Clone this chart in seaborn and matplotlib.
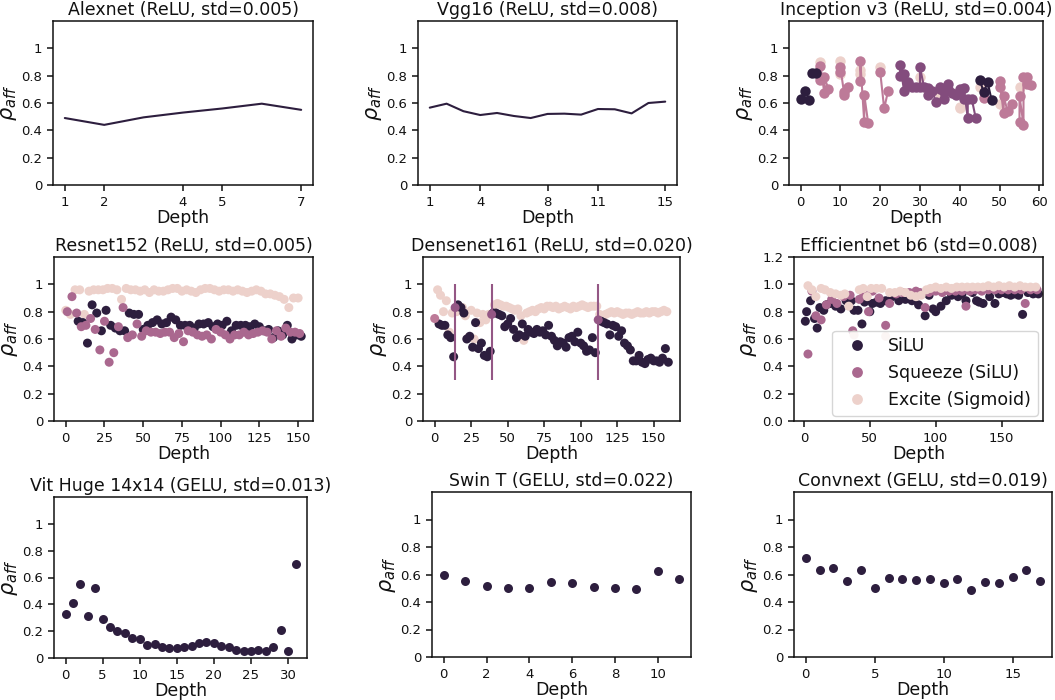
import numpy as np
import pandas as pd
import matplotlib
matplotlib.use("Agg")
import matplotlib.pyplot as plt
import seaborn as sns

# ---------------------------------------------------------------- data
alex_depth = [1, 2, 3, 4, 5, 6, 7]
alex_rho = [0.49, 0.44, 0.495, 0.53, 0.56, 0.595, 0.55]
alex_ticks = [1, 2, 4, 5, 7]

vgg_depth = list(range(1, 16))
vgg_rho = [0.566, 0.595, 0.54, 0.512, 0.527, 0.505, 0.49, 0.52, 0.522,
           0.515, 0.556, 0.554, 0.524, 0.60, 0.61]
vgg_ticks = [1, 4, 8, 11, 15]

# Inception v3: branch 0 = light, 1 = pink, 2 = purple, 3 = dark
inc_depth = [0, 1, 2, 3, 4,
             5, 5, 5, 6, 6, 7,
             10, 10, 10, 10, 11, 11, 12,
             15, 15, 15, 15, 16, 16, 17,
             20, 20, 21, 22,
             25, 25, 26, 26, 27, 27, 28, 29, 30,
             30, 30, 31, 32, 32, 33, 34,
             35, 35, 36, 36, 37, 37, 38, 39, 35,
             40, 40, 41, 41, 42, 42, 43, 44, 40, 40,
             45, 46, 47, 48, 45, 46,
             50, 50, 51, 51, 52, 53, 50,
             55, 55, 56, 56, 57, 57, 58, 55]
inc_rho = [0.63, 0.69, 0.62, 0.82, 0.82,
           0.90, 0.87, 0.77, 0.79, 0.67, 0.70,
           0.91, 0.81, 0.86, 0.83, 0.68, 0.66, 0.72,
           0.84, 0.81, 0.91, 0.76, 0.66, 0.46, 0.45,
           0.86, 0.83, 0.56, 0.69,
           0.88, 0.80, 0.81, 0.69, 0.73, 0.75, 0.72, 0.72, 0.79,
           0.86, 0.72, 0.72, 0.66, 0.71, 0.69, 0.61,
           0.72, 0.70, 0.63, 0.68, 0.74, 0.70, 0.67, 0.66, 0.65,
           0.70, 0.68, 0.71, 0.63, 0.63, 0.49, 0.63, 0.49, 0.57, 0.56,
           0.77, 0.68, 0.75, 0.62, 0.72, 0.64,
           0.76, 0.72, 0.65, 0.53, 0.54, 0.59, 0.59,
           0.65, 0.46, 0.44, 0.79, 0.79, 0.74, 0.73, 0.72]
inc_branch = [3, 3, 3, 3, 3,
              0, 1, 1, 1, 1, 1,
              0, 0, 1, 1, 1, 1, 1,
              0, 0, 1, 1, 1, 1, 1,
              0, 1, 1, 1,
              2, 2, 2, 2, 2, 2, 2, 2, 0,
              2, 2, 2, 2, 2, 2, 2,
              2, 2, 2, 2, 2, 2, 2, 2, 0,
              2, 2, 2, 2, 2, 2, 2, 2, 0, 0,
              3, 3, 3, 3, 0, 1,
              1, 1, 1, 1, 1, 1, 0,
              1, 1, 1, 1, 1, 1, 1, 0]
inc_block = [0, 1, 2, 3, 3,
             4, 4, 4, 4, 4, 4,
             5, 5, 5, 5, 5, 5, 5,
             6, 6, 6, 6, 6, 6, 6,
             7, 7, 7, 7,
             8, 8, 8, 8, 8, 8, 8, 8, 8,
             9, 9, 9, 9, 9, 9, 9,
             10, 10, 10, 10, 10, 10, 10, 10, 10,
             11, 11, 11, 11, 11, 11, 11, 11, 11, 11,
             12, 12, 12, 12, 12, 12,
             13, 13, 13, 13, 13, 13, 13,
             14, 14, 14, 14, 14, 14, 14, 14]

# Resnet152: three ReLUs per bottleneck
res_light_rho = [0.81, 0.78, 0.96, 0.96, 0.78, 0.95, 0.96, 0.96, 0.96, 0.97,
                 0.97, 0.96, 0.89, 0.97, 0.96, 0.96, 0.95, 0.96, 0.94, 0.96,
                 0.95, 0.95, 0.96, 0.97, 0.97, 0.95, 0.96, 0.95, 0.94, 0.96,
                 0.97, 0.97, 0.96, 0.95, 0.96, 0.96, 0.95, 0.96, 0.95, 0.94,
                 0.95, 0.96, 0.95, 0.93, 0.93, 0.92, 0.91, 0.89, 0.83, 0.90,
                 0.90]
res_mid_rho = [0.80, 0.91, 0.79, 0.69, 0.70, 0.75, 0.67, 0.52, 0.73, 0.43,
               0.50, 0.69, 0.83, 0.61, 0.63, 0.71, 0.62, 0.66, 0.65, 0.65,
               0.64, 0.65, 0.65, 0.61, 0.64, 0.58, 0.66, 0.65, 0.63, 0.62,
               0.63, 0.60, 0.67, 0.65, 0.63, 0.60, 0.63, 0.63, 0.65, 0.63,
               0.64, 0.65, 0.66, 0.65, 0.60, 0.66, 0.62, 0.68, 0.65, 0.65,
               0.64]
res_dark_rho = [0.73, 0.72, 0.57, 0.85, 0.79, 0.66, 0.81, 0.70, 0.68,
                0.66, 0.66, 0.79, 0.78, 0.78, 0.67, 0.70, 0.72, 0.74, 0.71,
                0.72, 0.76, 0.74, 0.70, 0.70, 0.70, 0.68, 0.71, 0.71, 0.72,
                0.69, 0.71, 0.70, 0.73, 0.66, 0.70, 0.70, 0.70, 0.69, 0.71,
                0.69, 0.66, 0.67, 0.61, 0.66, 0.63, 0.70, 0.60, 0.63, 0.62]
res_light_depth = np.arange(0, 151, 3)
res_mid_depth = np.arange(1, 152, 3)
res_dark_depth = np.arange(8, 153, 3)

# Densenet161: two ReLUs per dense layer, plus stem/transition ReLUs
dn_light_depth = ([2, 4, 6, 8, 10, 12] + list(range(15, 38, 2))
                  + list(range(41, 112, 2)) + list(range(113, 160, 2)))
dn_light_rho = ([0.96, 0.92, 0.80, 0.88, 0.65, 0.79]
                + [0.80, 0.81, 0.83, 0.77, 0.61, 0.81, 0.60, 0.79, 0.72, 0.78,
                   0.74, 0.78]
                + [0.85, 0.86, 0.85, 0.84, 0.84, 0.83, 0.82, 0.81, 0.82, 0.77,
                   0.59, 0.79, 0.80, 0.81, 0.80, 0.82, 0.83, 0.82, 0.84, 0.84,
                   0.83, 0.84, 0.82, 0.83, 0.84, 0.83, 0.82, 0.84, 0.83, 0.84,
                   0.85, 0.84, 0.83, 0.84, 0.84, 0.84]
                + [0.78, 0.77, 0.78, 0.79, 0.80, 0.79, 0.80, 0.79, 0.78, 0.79,
                   0.79, 0.78, 0.79, 0.80, 0.79, 0.79, 0.80, 0.79, 0.80, 0.80,
                   0.79, 0.80, 0.81, 0.80])
dn_dark_depth = ([3, 5, 7, 9, 11, 13] + list(range(16, 39, 2))
                 + list(range(40, 111, 2)) + list(range(114, 161, 2)))
dn_dark_rho = ([0.71, 0.70, 0.70, 0.63, 0.61, 0.47]
               + [0.85, 0.83, 0.79, 0.60, 0.62, 0.54, 0.72, 0.53, 0.57, 0.48,
                  0.47, 0.51]
               + [0.79, 0.79, 0.78, 0.77, 0.69, 0.71, 0.75, 0.67, 0.61, 0.63,
                  0.71, 0.62, 0.67, 0.65, 0.64, 0.67, 0.65, 0.66, 0.63, 0.70,
                  0.62, 0.59, 0.55, 0.58, 0.57, 0.54, 0.61, 0.62, 0.58, 0.65,
                  0.57, 0.55, 0.51, 0.52, 0.61, 0.50]
               + [0.73, 0.72, 0.71, 0.63, 0.70, 0.69, 0.62, 0.66, 0.57, 0.55,
                  0.52, 0.44, 0.44, 0.48, 0.43, 0.42, 0.45, 0.46, 0.44, 0.44,
                  0.43, 0.46, 0.53, 0.43])
dn_trans_depth = [0, 14, 39, 112]
dn_trans_rho = [0.75, 0.83, 0.78, 0.74]
dn_trans_kind = ["stem", "transition", "transition", "transition"]
dn_boundaries = [14, 39, 112]

# Efficientnet b6
eff_labels = ["SiLU", "Squeeze (SiLU)", "Excite (Sigmoid)"]
eff_silu_depth = [1, 2, 5, 8, 10, 12, 15, 17, 20, 24, 28, 32, 36, 38, 41, 44,
                  46, 50, 52, 55, 58, 62, 67, 72, 77, 82, 87, 92, 95, 98, 100,
                  104, 108, 112, 117, 120, 123, 128, 131, 133, 136, 141, 145,
                  148, 151, 154, 157, 160, 163, 166, 170, 174, 178]
eff_silu_rho = [0.73, 0.80, 0.88, 0.75, 0.68, 0.83, 0.81, 0.85, 0.86, 0.84,
                0.82, 0.88, 0.88, 0.81, 0.81, 0.71, 0.87, 0.80, 0.86, 0.87,
                0.86, 0.88, 0.91, 0.88, 0.89, 0.88, 0.85, 0.77, 0.92, 0.82,
                0.80, 0.84, 0.88, 0.92, 0.91, 0.93, 0.88, 0.94, 0.88, 0.87,
                0.86, 0.91, 0.86, 0.93, 0.94, 0.93, 0.92, 0.93, 0.92, 0.78,
                0.94, 0.93, 0.93]
eff_squeeze_depth = [3, 6, 9, 13, 17, 21, 25, 30, 35, 37, 42, 45, 49, 52, 57,
                     62, 65, 70, 75, 80, 85, 88, 92, 95, 100, 105, 110, 115,
                     120, 123, 126, 130, 135, 140, 145, 150, 155, 160, 165,
                     168, 172, 177]
eff_squeeze_rho = [0.49, 0.95, 0.77, 0.74, 0.85, 0.89, 0.86, 0.91, 0.92, 0.66,
                   0.89, 0.94, 0.80, 0.95, 0.90, 0.70, 0.86, 0.93, 0.94, 0.94,
                   0.95, 0.94, 0.83, 0.94, 0.95, 0.94, 0.95, 0.95, 0.95, 0.84,
                   0.95, 0.96, 0.95, 0.96, 0.96, 0.96, 0.96, 0.96, 0.96, 0.86,
                   0.96, 0.96]
eff_excite_depth = [3, 6, 9, 13, 16, 20, 24, 28, 31, 34, 38, 42, 45, 48, 51,
                    55, 59, 62, 65, 69, 73, 77, 81, 85, 89, 93, 96, 100, 104,
                    108, 112, 116, 120, 124, 128, 132, 136, 140, 144, 148,
                    152, 156, 160, 164, 168, 172, 176]
eff_excite_rho = [0.99, 0.96, 0.91, 0.97, 0.96, 0.94, 0.93, 0.92, 0.93, 0.84,
                  0.63, 0.96, 0.97, 0.91, 0.97, 0.97, 0.97, 0.62, 0.94, 0.94,
                  0.95, 0.94, 0.92, 0.91, 0.92, 0.96, 0.97, 0.98, 0.97, 0.98,
                  0.97, 0.98, 0.98, 0.98, 0.98, 0.98, 0.98, 0.99, 0.98, 0.99,
                  0.98, 0.99, 0.98, 0.99, 0.98, 0.98, 0.98]

vit_rho = [0.33, 0.41, 0.55, 0.31, 0.52, 0.29, 0.23, 0.20, 0.19, 0.15, 0.14,
           0.10, 0.105, 0.08, 0.075, 0.075, 0.08, 0.09, 0.11, 0.12, 0.11,
           0.09, 0.08, 0.06, 0.05, 0.05, 0.06, 0.055, 0.08, 0.21, 0.05, 0.70]
swin_rho = [0.60, 0.55, 0.52, 0.505, 0.505, 0.545, 0.535, 0.51, 0.50, 0.495,
            0.625, 0.565]
convnext_rho = [0.72, 0.63, 0.65, 0.55, 0.635, 0.505, 0.575, 0.565, 0.56,
                0.57, 0.535, 0.57, 0.485, 0.545, 0.535, 0.58, 0.63, 0.555]

titles = ["Alexnet (ReLU, std=0.005)", "Vgg16 (ReLU, std=0.008)",
          "Inception v3 (ReLU, std=0.004)", "Resnet152 (ReLU, std=0.005)",
          "Densenet161 (ReLU, std=0.020)", "Efficientnet b6 (std=0.008)",
          "Vit Huge 14x14 (GELU, std=0.013)", "Swin T (GELU, std=0.022)",
          "Convnext (GELU, std=0.019)"]
rho_ticks = [0, 0.2, 0.4, 0.6, 0.8, 1]
rho_ticklabels = ["0", "0.2", "0.4", "0.6", "0.8", "1"]

# ---------------------------------------------------------------- style
sns.set_theme(style="ticks")
ink = "#111111"
plt.rcParams.update({
    "font.family": ["DejaVu Sans"],
    "axes.titlesize": 12.5,
    "axes.labelsize": 12.5,
    "xtick.labelsize": 9.5,
    "ytick.labelsize": 9.5,
    "axes.linewidth": 1.1,
    "xtick.major.size": 4.2,
    "ytick.major.size": 4.2,
    "xtick.major.width": 1.1,
    "ytick.major.width": 1.1,
    "axes.titlepad": 4,
    "text.color": ink,
    "axes.labelcolor": ink,
    "axes.edgecolor": ink,
    "xtick.color": ink,
    "ytick.color": ink,
})

pal3 = sns.cubehelix_palette(3)          # light -> dark
pal6 = sns.cubehelix_palette(6)
pal10 = sns.cubehelix_palette(10)
light, mid, dark = pal3
inc_palette = {0: pal6[0], 1: pal6[2], 2: pal10[6], 3: pal6[5]}
DOT = 42

fig = plt.figure(figsize=(10.55, 7), dpi=100)
W, H = 1055, 700
boxes = [(53, 21, 313, 185), (418, 21, 677, 185), (789, 21, 1043, 185),
         (54, 257, 313, 421), (423, 257, 680, 421), (794, 257, 1043, 421),
         (54, 497, 307, 658), (432, 492, 691, 657), (794, 492, 1052, 657)]
axes = [fig.add_axes([l / W, 1 - b / H, (r - l) / W, (b - t) / H])
        for (l, t, r, b) in boxes]


def finish(ax, title, rho_fmt=True):
    ax.set_title(title)
    ax.set_xlabel("Depth", labelpad=0)
    ax.set_ylabel(r"$\rho_{aff}$", fontsize=15, labelpad=2)
    if rho_fmt:
        ax.set_ylim(0, 1.2)
        ax.set_yticks(rho_ticks, labels=rho_ticklabels)
    for s in ax.spines.values():
        s.set_visible(True)


# Alexnet
ax = axes[0]
sns.lineplot(x=alex_depth, y=alex_rho, ax=ax, color=dark, linewidth=1.5)
ax.set_xticks(alex_ticks)
finish(ax, titles[0])

# Vgg16
ax = axes[1]
sns.lineplot(x=vgg_depth, y=vgg_rho, ax=ax, color=dark, linewidth=1.5)
ax.set_xticks(vgg_ticks)
finish(ax, titles[1])

# Inception v3
ax = axes[2]
inc_df = pd.DataFrame({"depth": inc_depth, "rho": inc_rho,
                       "branch": inc_branch, "block": inc_block})
sns.lineplot(data=inc_df, x="depth", y="rho", hue="branch", units="block",
             estimator=None, palette=inc_palette, marker="o", markersize=7.5,
             markeredgewidth=0, linewidth=1.5, legend=False, ax=ax)
ax.set_xticks([0, 10, 20, 30, 40, 50, 60])
finish(ax, titles[2])

# Resnet152
ax = axes[3]
res_df = pd.concat([
    pd.DataFrame({"depth": res_light_depth, "rho": res_light_rho, "k": 0}),
    pd.DataFrame({"depth": res_dark_depth, "rho": res_dark_rho, "k": 2}),
    pd.DataFrame({"depth": res_mid_depth, "rho": res_mid_rho, "k": 1}),
], ignore_index=True)
sns.scatterplot(data=res_df, x="depth", y="rho", hue="k",
                palette={0: light, 1: mid, 2: dark}, s=DOT, linewidth=0,
                legend=False, ax=ax)
ax.set_xticks([0, 25, 50, 75, 100, 125, 150])
finish(ax, titles[3])

# Densenet161
ax = axes[4]
dn_df = pd.concat([
    pd.DataFrame({"depth": dn_light_depth, "rho": dn_light_rho, "k": "a"}),
    pd.DataFrame({"depth": dn_dark_depth, "rho": dn_dark_rho, "k": "b"}),
], ignore_index=True)
sns.scatterplot(data=dn_df, x="depth", y="rho", hue="k",
                palette={"a": light, "b": dark}, s=DOT, linewidth=0,
                legend=False, ax=ax)
ax.vlines(dn_boundaries, 0.3, 1.0, color=pal6[3], linewidth=1.5)
sns.scatterplot(x=dn_trans_depth, y=dn_trans_rho, hue=dn_trans_kind,
                palette={"stem": pal6[2], "transition": pal6[3]}, s=DOT,
                linewidth=0, legend=False, ax=ax)
ax.set_xticks([0, 25, 50, 75, 100, 125, 150])
finish(ax, titles[4])

# Efficientnet b6
ax = axes[5]
eff_df = pd.concat([
    pd.DataFrame({"depth": eff_silu_depth, "rho": eff_silu_rho,
                  "act": eff_labels[0]}),
    pd.DataFrame({"depth": eff_squeeze_depth, "rho": eff_squeeze_rho,
                  "act": eff_labels[1]}),
    pd.DataFrame({"depth": eff_excite_depth, "rho": eff_excite_rho,
                  "act": eff_labels[2]}),
], ignore_index=True)
sns.scatterplot(data=eff_df, x="depth", y="rho", hue="act",
                hue_order=eff_labels, palette=[dark, mid, light], s=DOT,
                linewidth=0, ax=ax)
ax.set_xlim(-7.6, 181.5)
ax.set_ylim(0, 1.2)
ax.set_yticks([0, 0.2, 0.4, 0.6, 0.8, 1.0, 1.2])
ax.set_xticks([0, 50, 100, 150])
finish(ax, titles[5], rho_fmt=False)
sns.move_legend(ax, "lower right", title=None, fontsize=12.5,
                frameon=True, borderaxespad=0.3, markerscale=1.2)

# Vit Huge
ax = axes[6]
sns.scatterplot(x=np.arange(len(vit_rho)), y=vit_rho, color=dark, s=DOT,
                linewidth=0, ax=ax)
ax.set_xticks([0, 5, 10, 15, 20, 25, 30])
finish(ax, titles[6])

# Swin T
ax = axes[7]
sns.scatterplot(x=np.arange(len(swin_rho)), y=swin_rho, color=dark, s=DOT,
                linewidth=0, ax=ax)
ax.set_xticks([0, 2, 4, 6, 8, 10])
finish(ax, titles[7])

# Convnext
ax = axes[8]
sns.scatterplot(x=np.arange(len(convnext_rho)), y=convnext_rho, color=dark,
                s=DOT, linewidth=0, ax=ax)
ax.set_xticks([0, 5, 10, 15])
finish(ax, titles[8])

fig.savefig("out.png", dpi=100)
